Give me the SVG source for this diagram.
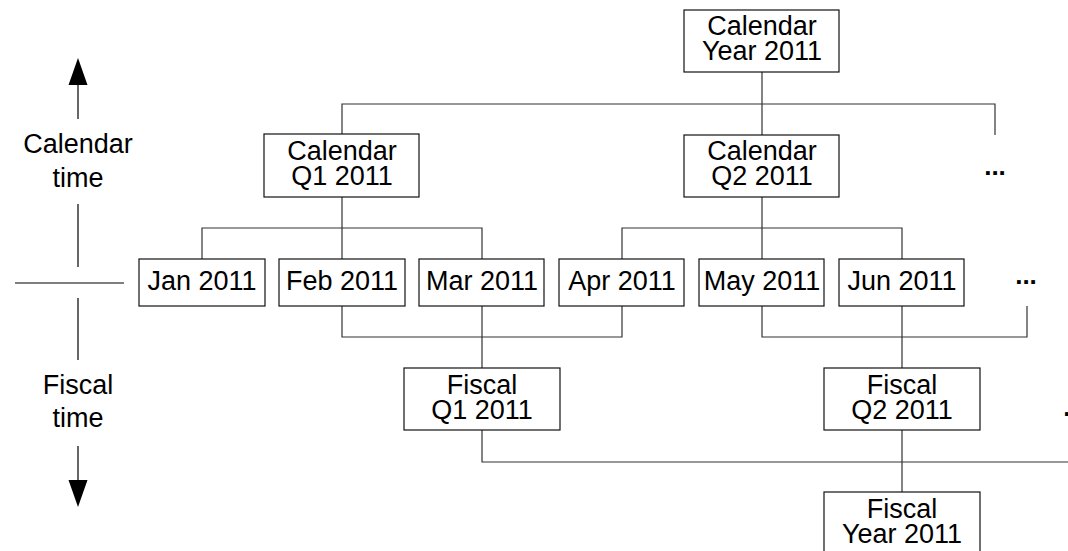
<svg xmlns="http://www.w3.org/2000/svg" width="1068" height="551" viewBox="0 0 1068 551">
  <style>
    .box { fill: #fff; stroke: #111; stroke-width: 1.2; }
    .wire { fill: none; stroke: #333; stroke-width: 1.2; }
    .axis { fill: none; stroke: #000; stroke-width: 1.2; }
    text { font-family: "Liberation Sans", Arial, sans-serif; font-size: 27px; fill: #000; text-anchor: middle; }
    .more { font-weight: bold; font-size: 26px; }
  </style>
  <rect width="1068" height="551" fill="#fff"/>

  <!-- time axis on the left -->
  <g id="time-axis">
    <line class="axis" x1="78" y1="119" x2="78" y2="84"/>
    <polygon points="78,58 68.5,85 87.5,85" fill="#000"/>
    <text x="78" y="153">Calendar<tspan x="78" dy="34">time</tspan></text>
    <line class="axis" x1="78" y1="204" x2="78" y2="267"/>
    <line class="axis" x1="15" y1="283" x2="124" y2="283"/>
    <line class="axis" x1="78" y1="298" x2="78" y2="360"/>
    <text x="78" y="394">Fiscal<tspan x="78" dy="33">time</tspan></text>
    <line class="axis" x1="78" y1="446" x2="78" y2="481"/>
    <polygon points="78,507 68.5,480 87.5,480" fill="#000"/>
  </g>

  <!-- connectors -->
  <g id="connectors">
    <!-- calendar year to quarters -->
    <path class="wire" d="M762,72 V135 M342,134 V104 H995 V135"/>
    <!-- calendar quarters to months -->
    <path class="wire" d="M342,197 V259 M202,259 V228 H482 V259"/>
    <path class="wire" d="M762,197 V259 M622,259 V228 H902 V259"/>
    <!-- months to fiscal quarters -->
    <path class="wire" d="M482,306 V368 M342,306 V337 H622 V306"/>
    <path class="wire" d="M902,306 V368 M762,306 V337 H1027 V306"/>
    <!-- fiscal quarters to fiscal year -->
    <path class="wire" d="M902,430 V492 M482,430 V462 H1068"/>
  </g>

  <!-- calendar hierarchy -->
  <g id="cal-year">
    <rect class="box" x="684" y="10" width="155" height="62"/>
    <text x="762" y="35">Calendar<tspan x="762" dy="25">Year 2011</tspan></text>
  </g>
  <g id="cal-q1">
    <rect class="box" x="264" y="134" width="155" height="63"/>
    <text x="342" y="160">Calendar<tspan x="342" dy="25">Q1 2011</tspan></text>
  </g>
  <g id="cal-q2">
    <rect class="box" x="684" y="135" width="155" height="62"/>
    <text x="762" y="160">Calendar<tspan x="762" dy="25">Q2 2011</tspan></text>
  </g>
  <g id="cal-more">
    <text class="more" x="995" y="175">...</text>
  </g>

  <!-- months -->
  <g id="jan">
    <rect class="box" x="139" y="259" width="126" height="47"/>
    <text x="202" y="290">Jan 2011</text>
  </g>
  <g id="feb">
    <rect class="box" x="279" y="259" width="126" height="47"/>
    <text x="342" y="290">Feb 2011</text>
  </g>
  <g id="mar">
    <rect class="box" x="419" y="259" width="125" height="47"/>
    <text x="482" y="290">Mar 2011</text>
  </g>
  <g id="apr">
    <rect class="box" x="559" y="259" width="125" height="47"/>
    <text x="622" y="290">Apr 2011</text>
  </g>
  <g id="may">
    <rect class="box" x="699" y="259" width="125" height="47"/>
    <text x="762" y="290">May 2011</text>
  </g>
  <g id="jun">
    <rect class="box" x="839" y="259" width="125" height="47"/>
    <text x="902" y="290">Jun 2011</text>
  </g>
  <g id="month-more">
    <text class="more" x="1026" y="284">...</text>
  </g>

  <!-- fiscal hierarchy -->
  <g id="fis-q1">
    <rect class="box" x="404" y="368" width="156" height="62"/>
    <text x="482" y="394">Fiscal<tspan x="482" dy="25">Q1 2011</tspan></text>
  </g>
  <g id="fis-q2">
    <rect class="box" x="824" y="368" width="156" height="62"/>
    <text x="902" y="394">Fiscal<tspan x="902" dy="25">Q2 2011</tspan></text>
  </g>
  <g id="fis-more">
    <text class="more" x="1074" y="416">...</text>
  </g>
  <g id="fis-year">
    <rect class="box" x="824" y="492" width="156" height="64"/>
    <text x="902" y="518">Fiscal<tspan x="902" dy="25">Year 2011</tspan></text>
  </g>
</svg>
